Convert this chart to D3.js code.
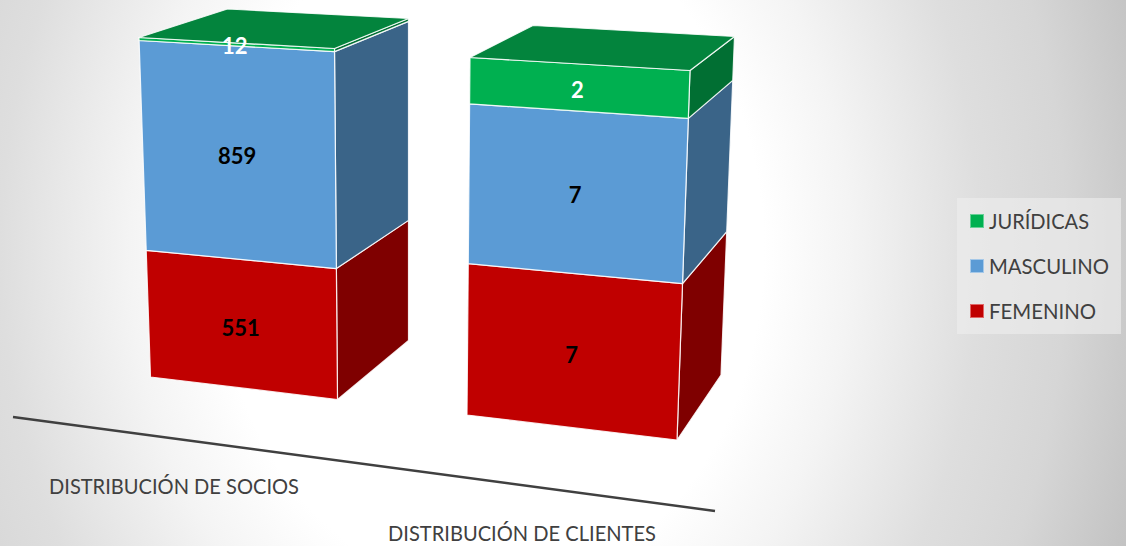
<!DOCTYPE html>
<html lang="es">
<head>
<meta charset="utf-8">
<style>
html,body{margin:0;padding:0;background:#fff;overflow:hidden}
svg{display:block}
text{font-family:Lato,"Open Sans",sans-serif}
</style>
<script src="https://cdn.jsdelivr.net/npm/d3@7"></script>
</head>
<body>
<svg id="chart" width="1126" height="546"></svg>
<script>
// ---- data ----
const categories = ["DISTRIBUCIÓN DE SOCIOS", "DISTRIBUCIÓN DE CLIENTES"];
const seriesNames = ["FEMENINO", "MASCULINO", "JURÍDICAS"];
const femenino = [551, 7];
const masculino = [859, 7];
const juridicas = [12, 2];

// ---- styles ----
const frontColors = ["#C00000", "#5B9BD5", "#00B050"];
const sideColors = ["#7F0000", "#3A6488", "#016F33"];
const topColor = "#03843D";
const labelColors = ["#000", "#000", "#fff"];
const legendStroke = ["#E06666", "#A5C8E8", "#66D096"];

// ---- projected box geometry (edge anchors: bottom -> top) ----
const boxes = [
  { fl: [[150.5, 377], [139, 37.5]], fr: [[337.5, 399.5], [334.5, 48.5]], br: [[408.5, 340.5], [408.5, 18.5]], blTop: [227.5, 9] },
  { fl: [[467, 415], [470, 57.5]], fr: [[677, 440], [690, 70.5]], br: [[721, 375], [734.5, 36.5]], blTop: [533, 25.5] }
];
const perspective = 1.04;

const W = 1126, H = 546;
const svg = d3.select("#chart");

// background
const defs = svg.append("defs");
const grad = defs.append("radialGradient").attr("id", "bg")
  .attr("gradientUnits", "userSpaceOnUse")
  .attr("cx", 0).attr("cy", 0).attr("r", 720)
  .attr("gradientTransform", "translate(490,250) scale(1,1.25)");
[[0, "#ffffff"], [0.38, "#ffffff"], [0.5, "#f4f4f4"], [0.68, "#dedede"], [0.8, "#d6d6d6"], [0.93, "#c4c4c4"], [1, "#bcbcbc"]].forEach(([o, c]) =>
  grad.append("stop").attr("offset", o).attr("stop-color", c));
svg.append("rect").attr("width", W).attr("height", H).attr("fill", "url(#bg)");

// stacked (100%) layout through d3.stack
const rows = categories.map((c, i) => ({ cat: c, FEMENINO: femenino[i], MASCULINO: masculino[i], "JURÍDICAS": juridicas[i] }));
const stacked = d3.stack().keys(seriesNames).offset(d3.stackOffsetExpand)(rows);

// one scale per vertical box edge; copy the point because d3's array interpolator reuses its output
const edge = pts => {
  const s = d3.scalePow().exponent(perspective).domain([0, 1]).range(pts);
  return t => s(t).slice();
};
const line = d3.line();

categories.forEach((cat, i) => {
  const b = boxes[i];
  const fl = edge(b.fl), fr = edge(b.fr), br = edge(b.br);
  const g = svg.append("g").attr("class", "bar");
  const faces = stacked.map((s, k) => ({ k, t0: s[i][0], t1: s[i][1] }));

  g.selectAll("path.side").data(faces).join("path").attr("class", "side")
    .attr("d", d => line([fr(d.t0), br(d.t0), br(d.t1), fr(d.t1)]) + "Z")
    .attr("fill", d => sideColors[d.k]);

  g.selectAll("path.front").data(faces).join("path").attr("class", "front")
    .attr("d", d => line([fl(d.t0), fr(d.t0), fr(d.t1), fl(d.t1)]) + "Z")
    .attr("fill", d => frontColors[d.k]);

  g.append("path").attr("class", "top")
    .attr("d", line([fl(1), fr(1), br(1), b.blTop]) + "Z")
    .attr("fill", topColor);

  g.selectAll("path")
    .attr("stroke", "#fff").attr("stroke-opacity", 0.85).attr("stroke-width", 1.2)
    .attr("stroke-linejoin", "round");

  g.selectAll("text").data(faces).join("text")
    .attr("x", d => { const m = (d.t0 + d.t1) / 2; return (fl(m)[0] + fr(m)[0]) / 2 - 2; })
    .attr("y", d => { const m = (d.t0 + d.t1) / 2; return (fl(m)[1] + fr(m)[1]) / 2 + 2; })
    .attr("dy", "0.36em")
    .attr("text-anchor", "middle")
    .attr("font-size", 22).attr("font-weight", 700)
    .attr("fill", d => labelColors[d.k])
    .text((d) => [femenino, masculino, juridicas][d.k][i]);
});

// category axis (perspective baseline)
svg.append("path")
  .attr("d", line([[13, 417], [715, 511]]))
  .attr("stroke", "#404040").attr("stroke-width", 2.4).attr("fill", "none");

const catX = d3.scalePoint().domain(categories).range([174, 522]);
const catY = d3.scaleLinear().domain([174, 522]).range([494, 541]);
const catWidths = [250, 268];
svg.selectAll("text.cat").data(categories).join("text").attr("class", "cat")
  .attr("x", d => catX(d)).attr("y", d => catY(catX(d)))
  .attr("text-anchor", "middle").attr("font-size", 22).attr("fill", "#404040")
  .attr("textLength", (d, i) => catWidths[i]).attr("lengthAdjust", "spacingAndGlyphs")
  .text(d => d);

// legend
const legend = svg.append("g");
legend.append("rect").attr("x", 957).attr("y", 198).attr("width", 164).attr("height", 136)
  .attr("fill", "#eeeeee").attr("fill-opacity", 0.6);
const legY = d3.scalePoint().domain(seriesNames.slice().reverse()).range([221, 311]);
const legWidths = { "JURÍDICAS": 100, "MASCULINO": 120, "FEMENINO": 107 };
seriesNames.forEach((n, k) => {
  legend.append("rect").attr("x", 970.5).attr("y", legY(n) - 6.5).attr("width", 13).attr("height", 13)
    .attr("fill", frontColors[k]).attr("stroke", legendStroke[k]).attr("stroke-width", 1);
  legend.append("text").attr("x", 989).attr("y", legY(n)).attr("dy", "0.35em")
    .attr("font-size", 22).attr("fill", "#404040")
    .attr("textLength", legWidths[n]).attr("lengthAdjust", "spacingAndGlyphs")
    .text(n);
});
</script>
</body>
</html>
